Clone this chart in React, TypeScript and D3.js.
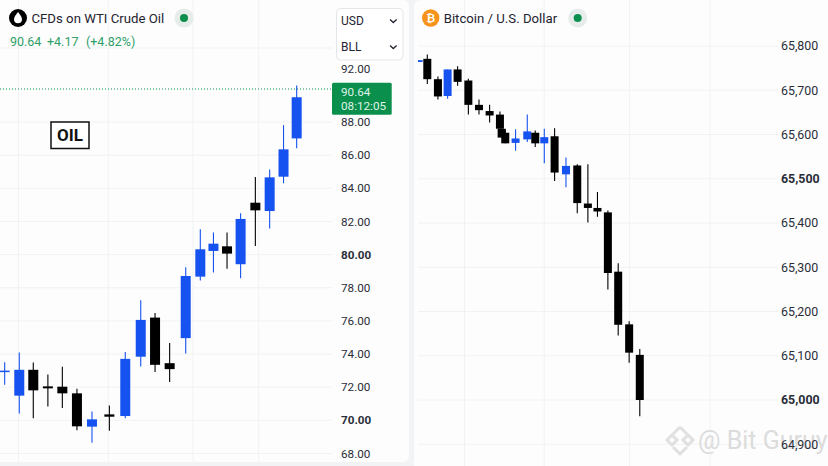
import React, { useEffect, useRef } from 'react';
import * as d3 from 'd3';

const UP = '#1652f0';
const DOWN = '#000000';
const GREEN = '#0b8f4d';
const FONT = 'Roboto, sans-serif';

// x slots are read off the picture, the screenshot's candles are not evenly spaced
const oilSlots = [0, 1, 1.96, 2.96, 3.95, 4.95, 5.98, 7.17, 8.26, 9.32, 10.3, 11.3, 12.4, 13.4, 14.3, 15.23, 16.16, 17.17, 18.15, 19.1, 20];
const oilOpen = [72.95, 71.49, 73.05, 72.05, 72.03, 71.63, 69.62, 70.36, 70.26, 73.84, 76.2, 73.45, 74.96, 78.67, 80.22, 80.5, 79.42, 83.13, 82.63, 84.7, 87.01];
const oilHigh = [73.51, 74.1, 73.49, 72.77, 73.23, 71.91, 70.54, 70.9, 74.12, 77.25, 76.47, 74.66, 79.24, 81.53, 81.33, 81.33, 82.49, 84.68, 85.14, 87.81, 90.88];
const oilLow = [72.15, 70.42, 70.12, 70.84, 70.74, 69.4, 68.65, 69.38, 70.12, 73.25, 72.91, 72.31, 74.04, 78.43, 78.92, 79.14, 78.57, 80.52, 81.57, 84.3, 86.41];
const oilClose = [73.0, 73.05, 71.81, 71.93, 71.63, 69.64, 70.06, 70.22, 73.71, 76.06, 73.35, 73.09, 78.71, 80.32, 80.66, 80.06, 82.15, 82.67, 84.66, 86.35, 89.98];
const oilTicks = [68, 70, 72, 74, 76, 78, 80, 82, 84, 86, 88, 92];
const oilBoldTicks = [70, 80];
const oilGrid = [68, 70, 72, 74, 76, 78, 80, 82, 84, 86, 88, 94];
const oilVerticals = [0.95, 7.1, 12.9, 17.4];

const btcSlots = [0.19, 1, 2, 2.91, 3.85, 4.86, 5.86, 6.86, 7.83, 7.99, 8.33, 9.3, 10.4, 11.15, 12, 12.97, 14.04, 15.1, 16.1, 17, 17.98, 18.95, 19.98, 20.98];
const btcOpen = [65764, 65771, 65725, 65687, 65747, 65722, 65667, 65653, 65645, 65613, 65604, 65581, 65589, 65604, 65580, 65596, 65510, 65530, 65444, 65434, 65424, 65290, 65171, 65102];
const btcHigh = [65768, 65781, 65731, 65747, 65754, 65726, 65679, 65667, 65652, 65613, 65612, 65612, 65645, 65609, 65613, 65614, 65548, 65533, 65533, 65470, 65428, 65309, 65178, 65115];
const btcLow = [65764, 65714, 65679, 65681, 65710, 65645, 65645, 65627, 65613, 65593, 65580, 65563, 65583, 65572, 65535, 65495, 65481, 65422, 65401, 65414, 65250, 65146, 65084, 64963];
const btcClose = [65768, 65725, 65686, 65747, 65719, 65667, 65655, 65643, 65613, 65593, 65580, 65591, 65607, 65580, 65594, 65514, 65529, 65445, 65434, 65426, 65287, 65170, 65107, 65000];
const btcTicks = [65800, 65700, 65600, 65500, 65400, 65300, 65200, 65100, 65000, 64900];
const btcBoldTicks = [65500, 65000];
const btcVerticals = [4.5, 12, 20, 27.6];

type Sel = d3.Selection<SVGGElement, unknown, null, undefined>;

function drawCandles(
  g: Sel,
  x: (v: number) => number,
  y: (v: number) => number,
  slots: number[],
  open: number[],
  high: number[],
  low: number[],
  close: number[],
  bodyWidth: number,
) {
  slots.forEach((s, i) => {
    const color = close[i] >= open[i] ? UP : DOWN;
    g.append('line')
      .attr('x1', x(s)).attr('x2', x(s))
      .attr('y1', y(high[i])).attr('y2', y(low[i]))
      .attr('stroke', color).attr('stroke-width', 1.1);
    const top = y(Math.max(open[i], close[i]));
    const bottom = y(Math.min(open[i], close[i]));
    g.append('rect')
      .attr('x', x(s) - bodyWidth / 2)
      .attr('y', top)
      .attr('width', bodyWidth)
      .attr('height', Math.max(bottom - top, 1.5))
      .attr('fill', color);
  });
}

function status(svg: any, cx: number) {
  svg.append('circle').attr('cx', cx).attr('cy', 18).attr('r', 9.5).attr('fill', '#e6ecea');
  svg.append('circle').attr('cx', cx).attr('cy', 18).attr('r', 4).attr('fill', GREEN);
}

export default function App() {
  const svgRef = useRef<SVGSVGElement>(null);

  useEffect(() => {
    if (!svgRef.current) return;
    const svg = d3.select(svgRef.current);
    svg.selectAll('*').remove();

    svg.append('rect').attr('width', 828).attr('height', 466).attr('fill', '#f1f3f4');
    svg.append('rect').attr('x', -10).attr('y', 0).attr('width', 419).attr('height', 462).attr('rx', 6).attr('fill', '#fdfdfd');
    svg.append('rect').attr('x', 414).attr('y', 0).attr('width', 424).attr('height', 476).attr('rx', 6).attr('fill', '#fdfdfd');

    const defs = svg.append('defs');
    defs.append('clipPath').attr('id', 'clip-oil').append('rect').attr('x', 0).attr('y', 0).attr('width', 332).attr('height', 462);
    defs.append('clipPath').attr('id', 'clip-btc').append('rect').attr('x', 418).attr('y', 0).attr('width', 360).attr('height', 466);

    // ---- Oil panel
    const xOil = d3.scaleLinear().domain([0, 20]).range([4.67, 296.67]);
    // The axis in the picture is squeezed above 88, so the scale has extra stops
    const yOil = d3.scaleLinear().domain([68, 88, 90.64, 92, 94]).range([453.5, 122, 89, 69, 48]);

    const oilG = svg.append('g').attr('clip-path', 'url(#clip-oil)') as unknown as Sel;
    oilGrid.forEach(t => {
      oilG.append('line').attr('x1', 0).attr('x2', 332).attr('y1', yOil(t)).attr('y2', yOil(t))
        .attr('stroke', '#f1f2f4').attr('stroke-width', 1);
    });
    oilVerticals.forEach(t => {
      oilG.append('line').attr('x1', xOil(t)).attr('x2', xOil(t)).attr('y1', 0).attr('y2', 462)
        .attr('stroke', '#f1f2f4').attr('stroke-width', 1);
    });
    drawCandles(oilG, xOil, yOil, oilSlots, oilOpen, oilHigh, oilLow, oilClose, 10);

    svg.append('line').attr('x1', 0).attr('x2', 332).attr('y1', yOil(90.64)).attr('y2', yOil(90.64))
      .attr('stroke', GREEN).attr('stroke-width', 1).attr('stroke-dasharray', '1 2');

    oilTicks.forEach(t => {
      svg.append('text').attr('x', 341).attr('y', yOil(t)).attr('dy', '0.35em')
        .attr('font-family', FONT).attr('font-size', 11.7)
        .attr('font-weight', oilBoldTicks.includes(t) ? 700 : 400)
        .attr('fill', '#2a2e39').text(d3.format('.2f')(t));
    });

    // last price tag
    svg.append('rect').attr('x', 332).attr('y', 82.7).attr('width', 59.7).attr('height', 32).attr('rx', 1.5).attr('fill', GREEN);
    svg.append('text').attr('x', 341).attr('y', 91.5).attr('dy', '0.35em').attr('font-family', FONT).attr('font-size', 11.7).attr('fill', '#dff3e8').text('90.64');
    svg.append('text').attr('x', 341).attr('y', 105.5).attr('dy', '0.35em').attr('font-family', FONT).attr('font-size', 11.7).attr('fill', '#dff3e8').text('08:12:05');

    // header
    svg.append('circle').attr('cx', 18).attr('cy', 18).attr('r', 9).attr('fill', '#000');
    svg.append('path').attr('d', 'M18 12 C20.5 15.2 22 17 22 19.3 A4 4 0 0 1 14 19.3 C14 17 15.5 15.2 18 12 Z').attr('fill', '#fff');
    svg.append('text').attr('x', 31.5).attr('y', 23).attr('font-family', FONT).attr('font-size', 13.2).attr('fill', '#1f2430').text('CFDs on WTI Crude Oil');
    status(svg, 184);
    const quote = svg.append('text').attr('y', 45.5).attr('font-family', FONT).attr('font-size', 12.5).attr('fill', '#2f9e68');
    quote.append('tspan').attr('x', 10).text('90.64');
    quote.append('tspan').attr('x', 47).text('+4.17');
    quote.append('tspan').attr('x', 86).text('(+4.82%)');

    // unit selector
    svg.append('rect').attr('x', 336.5).attr('y', 8.5).attr('width', 66.5).attr('height', 51.5).attr('rx', 4)
      .attr('fill', '#ffffff').attr('stroke', '#e4e6ea');
    [['USD', 21], ['BLL', 47]].forEach(([label, cy]) => {
      svg.append('text').attr('x', 341).attr('y', cy as number).attr('dy', '0.35em')
        .attr('font-family', FONT).attr('font-size', 12).attr('fill', '#1f2430').text(label as string);
      const c = cy as number;
      svg.append('path').attr('d', `M390 ${c - 1.5} L393.3 ${c + 1.5} L396.6 ${c - 1.5}`)
        .attr('fill', 'none').attr('stroke', '#1f2430').attr('stroke-width', 1.3);
    });

    // OIL label
    svg.append('rect').attr('x', 51).attr('y', 122).attr('width', 38).attr('height', 26.5)
      .attr('fill', '#fff').attr('stroke', '#111').attr('stroke-width', 1.5);
    svg.append('text').attr('x', 70).attr('y', 135.5).attr('dy', '0.35em').attr('text-anchor', 'middle')
      .attr('font-family', FONT).attr('font-size', 17).attr('font-weight', 700).attr('fill', '#111').text('OIL');

    // ---- Bitcoin panel
    const xBtc = d3.scaleLinear().domain([1, 21]).range([427.3, 640]);
    const yBtc = d3.scaleLinear().domain([64900, 65800]).range([444.25, 46]);

    const btcG = svg.append('g').attr('clip-path', 'url(#clip-btc)') as unknown as Sel;
    btcTicks.forEach(t => {
      btcG.append('line').attr('x1', 418).attr('x2', 778).attr('y1', yBtc(t)).attr('y2', yBtc(t))
        .attr('stroke', '#f1f2f4').attr('stroke-width', 1);
    });
    btcVerticals.forEach(t => {
      btcG.append('line').attr('x1', xBtc(t)).attr('x2', xBtc(t)).attr('y1', 0).attr('y2', 466)
        .attr('stroke', '#f1f2f4').attr('stroke-width', 1);
    });
    drawCandles(btcG, xBtc, yBtc, btcSlots, btcOpen, btcHigh, btcLow, btcClose, 8);

    // watermark sits under the tick labels
    const mark = svg.append('g').attr('fill', 'none').attr('stroke', '#e0e0e0').attr('stroke-width', 3);
    mark.append('path').attr('d', 'M680 427 L687 434 M680 427 L673 434');
    mark.append('path').attr('d', 'M667 440 L672 435 L677 440 L672 445 Z');
    mark.append('path').attr('d', 'M683 440 L688 435 L693 440 L688 445 Z');
    mark.append('path').attr('d', 'M673 447 L680 454 L687 447');
    svg.append('text').attr('x', 698).attr('y', 449).attr('font-family', FONT).attr('font-size', 25)
      .attr('fill', '#dcdcdc').text('@ Bit Guruy');

    btcTicks.forEach(t => {
      svg.append('text').attr('x', 781).attr('y', yBtc(t)).attr('dy', '0.35em')
        .attr('font-family', FONT).attr('font-size', 12.4)
        .attr('font-weight', btcBoldTicks.includes(t) ? 700 : 400)
        .attr('fill', '#2a2e39').text(d3.format(',')(t));
    });

    svg.append('circle').attr('cx', 430.7).attr('cy', 18).attr('r', 8.7).attr('fill', '#f7931a');
    svg.append('text').attr('x', 430.7).attr('y', 18).attr('dy', '0.35em').attr('text-anchor', 'middle')
      .attr('font-family', '"DejaVu Sans", sans-serif').attr('font-size', 11).attr('font-weight', 700).attr('fill', '#fff').text('₿');
    svg.append('text').attr('x', 443.7).attr('y', 23).attr('font-family', FONT).attr('font-size', 13.2).attr('fill', '#1f2430').text('Bitcoin / U.S. Dollar');
    status(svg, 577.7);
  }, []);

  return <svg ref={svgRef} width={828} height={466} style={{ position: 'absolute', left: 0, top: 0 }} />;
}
